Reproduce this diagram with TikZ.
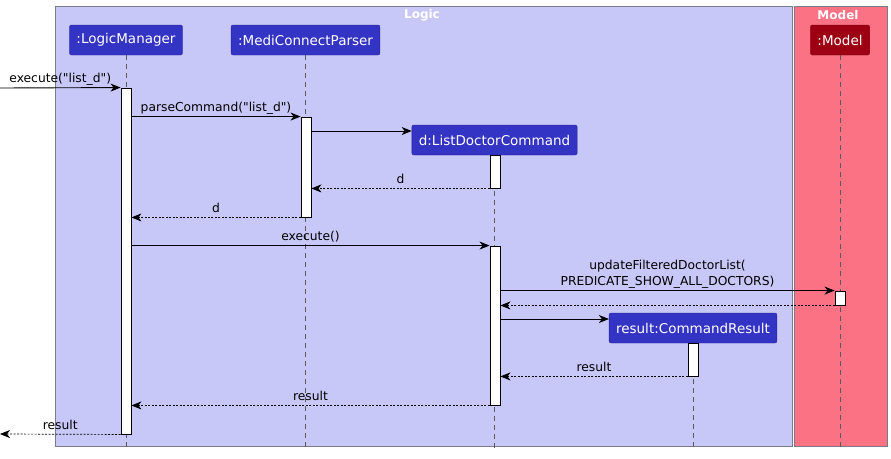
\documentclass[tikz,border=0pt]{standalone}
\usepackage{fontspec}
\setmainfont{DejaVu Sans}
\newfontfamily\rawfont{DejaVu Sans}
\usetikzlibrary{arrows.meta}

\definecolor{logicbg}{HTML}{C8C8F8}
\definecolor{modelbg}{HTML}{FB7285}
\definecolor{pkgline}{HTML}{7A7A8A}
\definecolor{partblue}{HTML}{3333C4}
\definecolor{partred}{HTML}{9D0012}

\newcommand{\dq}{{\rawfont\symbol{34}}}

\tikzset{
  participant/.style={draw=#1!75!black, fill=#1, rounded corners=2pt, text=white,
    minimum height=30pt, inner xsep=7pt, font=\fontsize{13.5}{16}\selectfont},
  act/.style={draw, fill=white, line width=0.9pt, minimum width=10pt, inner sep=0pt},
  msg/.style={line width=0.9pt, -{Stealth[length=10pt,width=8pt,inset=3pt]}},
  ret/.style={msg, line width=0.7pt, dash pattern=on 2pt off 1.5pt},
  lifeline/.style={draw=black!65, line width=0.8pt, dash pattern=on 5pt off 4pt},
  lbl/.style={above, inner xsep=1.5pt, inner ysep=4.5pt, text depth=0pt, align=center,
    font=\fontsize{12.3}{16}\selectfont},
  pkgtitle/.style={text=white, font=\bfseries\fontsize{12}{14}\selectfont}
}

\begin{document}
\begin{tikzpicture}[x=1pt, y=-1pt]
\useasboundingbox (0,0) rectangle (891,458);

% packages
\draw[pkgline, fill=logicbg, line width=1pt] (55,6) rectangle (792,446);
\node[pkgtitle] (tLogic) at (422,15) {Logic};
\draw[pkgline, fill=modelbg, line width=1pt] (794,6) rectangle (887,446);
\node[pkgtitle] (tModel) at (838,15) {Model};

% participants
\node[participant=partblue] (pLM) at (126,40) {:LogicManager};
\node[participant=partblue] (pP) at (305.5,40) {:MediConnectParser};
\node[participant=partblue] (pD) at (494.5,140) {d:ListDoctorCommand};
\node[participant=partred] (pM) at (840,40) {:Model};
\node[participant=partblue] (pR) at (693,328) {result:CommandResult};

\coordinate (bot) at (0,451);
\foreach \p in {pLM,pP,pD,pM,pR}
  \draw[lifeline] (\p.south) -- (\p.south |- bot);

% activations
\node[act, minimum height=346pt] (aLM) at (126,261) {};
\node[act, minimum height=100pt] (aP) at (306,167) {};
\node[act, minimum height=33pt] (aD1) at (495,171.5) {};
\node[act, minimum height=159pt] (aD2) at (495,325.5) {};
\node[act, minimum height=14pt] (aM) at (840,298) {};
\node[act, minimum height=33pt] (aR) at (693,359.5) {};

\coordinate (inL) at (0,88);
\coordinate (outL) at (0,434);
\coordinate (newD) at ([yshift=9pt]pD.west);
\coordinate (newR) at ([yshift=9pt]pR.west);

% messages
\draw[msg] (inL) -- node[lbl] {execute(\dq list\_d\dq)} (aLM.north west);
\draw[msg] (aLM.east |- aP.north) -- node[lbl] {parseCommand(\dq list\_d\dq)} (aP.north west);
\draw[msg] (aP.east |- newD) -- (newD);
\draw[ret] (aD1.south west) -- node[lbl] {d} (aP.east |- aD1.south);
\draw[ret] (aP.south west) -- node[lbl] {d} (aLM.east |- aP.south);
\draw[msg] (aLM.east |- aD2.north) -- node[lbl] {execute()} (aD2.north west);
\draw[msg] (aD2.east |- aM.north) -- node[lbl] {updateFilteredDoctorList(\\PREDICATE\_SHOW\_ALL\_DOCTORS)} (aM.north west);
\draw[ret] (aM.south west) -- (aD2.east |- aM.south);
\draw[msg] (aD2.east |- newR) -- (newR);
\draw[ret] (aR.south west) -- node[lbl] {result} (aD2.east |- aR.south);
\draw[ret] (aD2.south west) -- node[lbl] {result} (aLM.east |- aD2.south);
\draw[ret] (aLM.south west) -- node[lbl] {result} (outL);

\end{tikzpicture}
\end{document}
